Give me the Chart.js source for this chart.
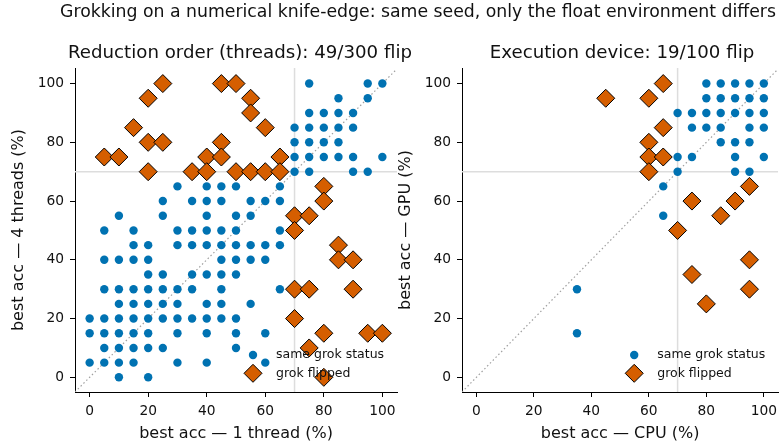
<!DOCTYPE html>
<html><head><meta charset="utf-8">
<script src="https://cdn.jsdelivr.net/npm/chart.js@4.4.1/dist/chart.umd.min.js"></script>
<style>
html,body{margin:0;padding:0;background:#fff;}
#wrap{position:relative;width:783px;height:444px;overflow:hidden;font-family:'DejaVu Sans',sans-serif;color:#111;}
canvas{position:absolute;left:0;top:0;}
.t{position:absolute;white-space:nowrap;text-align:center;line-height:1;}
</style></head><body>
<div id="wrap">
<canvas id="c1" width="783" height="444"></canvas>
<canvas id="c2" width="783" height="444"></canvas>
<div class="t" style="left:18px;width:800px;top:2.7px;font-size:17.3px;">Grokking on a numerical knife-edge: same seed, only the float environment differs</div>
<div class="t" style="left:40px;width:400px;top:42.8px;font-size:18.2px;">Reduction order (threads): 49/300 flip</div>
<div class="t" style="left:422px;width:400px;top:42.8px;font-size:18.2px;">Execution device: 19/100 flip</div>
</div>
<script>
// ---- data (best accuracy %) ----
const tickValues = [0, 20, 40, 60, 80, 100];
const legendLabels = ['same grok status', 'grok flipped'];

// panel 1: 1 thread (x) vs 4 threads (y)
const threadsSame = [
  [75,100],[95,100],[100,100],
  [85,95],[95,95],
  [75,90],[80,90],[85,90],[90,90],
  [70,85],[75,85],[80,85],[85,85],[90,85],
  [70,80],[75,80],[80,80],[85,80],
  [70,75],[75,75],[80,75],[85,75],[90,75],[100,75],
  [70,70],[75,70],[90,70],[95,70],
  [30,65],[40,65],[45,65],[50,65],[65,65],
  [25,60],[35,60],[40,60],[45,60],[55,60],[60,60],[65,60],
  [10,55],[25,55],[40,55],[50,55],[55,55],
  [5,50],[15,50],[30,50],[35,50],[40,50],[45,50],[50,50],[65,50],
  [15,45],[20,45],[30,45],[35,45],[40,45],[45,45],[50,45],[55,45],[60,45],[65,45],
  [5,40],[10,40],[15,40],[20,40],[45,40],[50,40],[55,40],[60,40],
  [20,35],[25,35],[35,35],[40,35],[45,35],[50,35],
  [5,30],[10,30],[15,30],[20,30],[25,30],[30,30],[35,30],[45,30],[65,30],
  [10,25],[15,25],[20,25],[25,25],[30,25],[40,25],[45,25],[55,25],
  [0,20],[5,20],[10,20],[15,20],[20,20],[25,20],[30,20],[35,20],[40,20],[45,20],[50,20],
  [0,15],[5,15],[10,15],[15,15],[20,15],[30,15],[40,15],[50,15],[60,15],
  [5,10],[10,10],[15,10],[20,10],[25,10],[50,10],
  [0,5],[5,5],[10,5],[15,5],[30,5],[40,5],[60,5],
  [10,0],[20,0]
];
const threadsFlip = [
  [25,100],[45,100],[50,100],
  [20,95],[55,95],
  [55,90],
  [15,85],[60,85],
  [20,80],[25,80],[45,80],
  [5,75],[10,75],[40,75],[45,75],[65,75],
  [20,70],[35,70],[40,70],[50,70],[55,70],[60,70],[65,70],
  [80,65],[80,60],
  [70,55],[75,55],
  [70,50],
  [85,45],
  [85,40],[90,40],
  [70,30],[75,30],[90,30],
  [70,20],
  [80,15],[95,15],[100,15],
  [75,10],
  [80,0]
];

// panel 2: CPU (x) vs GPU (y)
const deviceSame = [
  [80,100],[85,100],[90,100],[95,100],[100,100],
  [80,95],[85,95],[90,95],[95,95],[100,95],
  [70,90],[75,90],[80,90],[85,90],[90,90],[95,90],[100,90],
  [75,85],[80,85],[85,85],[95,85],[100,85],
  [85,80],[90,80],[95,80],
  [70,75],[75,75],[90,75],[100,75],
  [70,70],[90,70],[95,70],
  [65,65],
  [65,55],
  [35,30],
  [35,15]
];
const deviceFlip = [
  [65,100],
  [45,95],[60,95],
  [65,85],
  [60,80],
  [60,75],[65,75],
  [60,70],
  [95,65],
  [75,60],[90,60],
  [85,55],
  [70,50],
  [95,40],
  [75,35],
  [95,30],
  [80,25]
];
const threshold = 70;
const axisRange = [-5, 105];

// ---- styling ----
const FONT = "'DejaVu Sans', sans-serif";
const BLUE = '#0072B2';
const ORANGE = '#D55E00';
const INK = '#111111';

const insideLegend = {
  id: 'insideLegend',
  afterDraw(chart) {
    const ctx = chart.ctx, a = chart.chartArea;
    const mx = a.right - 144, tx = a.right - 121;
    const y1 = a.bottom - 37, y2 = a.bottom - 18.7;
    ctx.save();
    ctx.fillStyle = BLUE;
    ctx.beginPath(); ctx.arc(mx, y1, 4.2, 0, Math.PI * 2); ctx.fill();
    const r = 9;
    ctx.beginPath();
    ctx.moveTo(mx - r, y2); ctx.lineTo(mx, y2 - r); ctx.lineTo(mx + r, y2); ctx.lineTo(mx, y2 + r); ctx.closePath();
    ctx.fillStyle = ORANGE; ctx.fill();
    ctx.lineWidth = 1; ctx.strokeStyle = '#000'; ctx.stroke();
    ctx.fillStyle = INK;
    ctx.font = '12.5px ' + FONT;
    ctx.textBaseline = 'middle';
    ctx.textAlign = 'left';
    ctx.fillText(legendLabels[0], tx, y1);
    ctx.fillText(legendLabels[1], tx, y2);
    ctx.restore();
  }
};

function toPts(arr) { return arr.map(p => ({x: p[0], y: p[1]})); }

function axisOpts(titleText, isX, titlePad, fitSize, maxV) {
  return {
    type: 'linear',
    position: isX ? 'bottom' : 'left',
    min: axisRange[0],
    max: maxV,
    afterBuildTicks: s => { s.ticks = tickValues.map(v => ({value: v})); },
    afterFit: s => { if (isX) s.height = fitSize; else s.width = fitSize; },
    grid: {display: true, drawOnChartArea: false, drawTicks: true, tickLength: 5, tickColor: '#000', tickWidth: 1},
    border: {display: true, color: '#000', width: 1},
    ticks: {font: {family: FONT, size: 13.8}, color: INK, padding: 6, autoSkip: false, maxRotation: 0, callback: v => String(v)},
    title: {display: true, text: titleText, color: INK, font: {family: FONT, size: 16}, padding: titlePad}
  };
}

function makeChart(id, same, flip, xLabel, yLabel, pad, yWidth, yTitlePad) {
  return new Chart(document.getElementById(id), {
    type: 'scatter',
    data: {
      datasets: [
        {label: legendLabels[1], data: toPts(flip), pointStyle: 'rectRot', pointRadius: 9,
         backgroundColor: ORANGE, borderColor: '#000', borderWidth: 1, clip: false},
        {label: legendLabels[0], data: toPts(same), pointStyle: 'circle', pointRadius: 4.2,
         backgroundColor: BLUE, borderWidth: 0, clip: false},
        {type: 'line', data: [{x: threshold, y: axisRange[0]}, {x: threshold, y: 105.3}],
         borderColor: '#dddddd', borderWidth: 1.5, pointRadius: 0, fill: false},
        {type: 'line', data: [{x: axisRange[0], y: threshold}, {x: axisRange[1], y: threshold}],
         borderColor: '#dddddd', borderWidth: 1.5, pointRadius: 0, fill: false},
        {type: 'line', data: [{x: axisRange[0], y: axisRange[0]}, {x: axisRange[1], y: axisRange[1]}],
         borderColor: '#a0a0a0', borderWidth: 1.2, borderDash: [1.5, 2.5], pointRadius: 0, fill: false}
      ]
    },
    options: {
      responsive: false, animation: false, devicePixelRatio: 1, events: [],
      layout: {padding: pad, autoPadding: false},
      plugins: {legend: {display: false}, tooltip: {enabled: false}, title: {display: false}},
      scales: {
        x: axisOpts(xLabel, true, {top: 0, bottom: 1}, 52, axisRange[1]),
        y: axisOpts(yLabel, false, {top: yTitlePad, bottom: 0}, yWidth, 105.3)
      }
    },
    plugins: [insideLegend]
  });
}

makeChart('c1', threadsSame, threadsFlip, 'best acc — 1 thread (%)', 'best acc — 4 threads (%)',
  {left: 0, top: 68, right: 386, bottom: 0}, 75, 9.4);
makeChart('c2', deviceSame, deviceFlip, 'best acc — CPU (%)', 'best acc — GPU (%)',
  {left: 396, top: 68, right: 0, bottom: 0}, 66, 0.4);
</script>
</body></html>
